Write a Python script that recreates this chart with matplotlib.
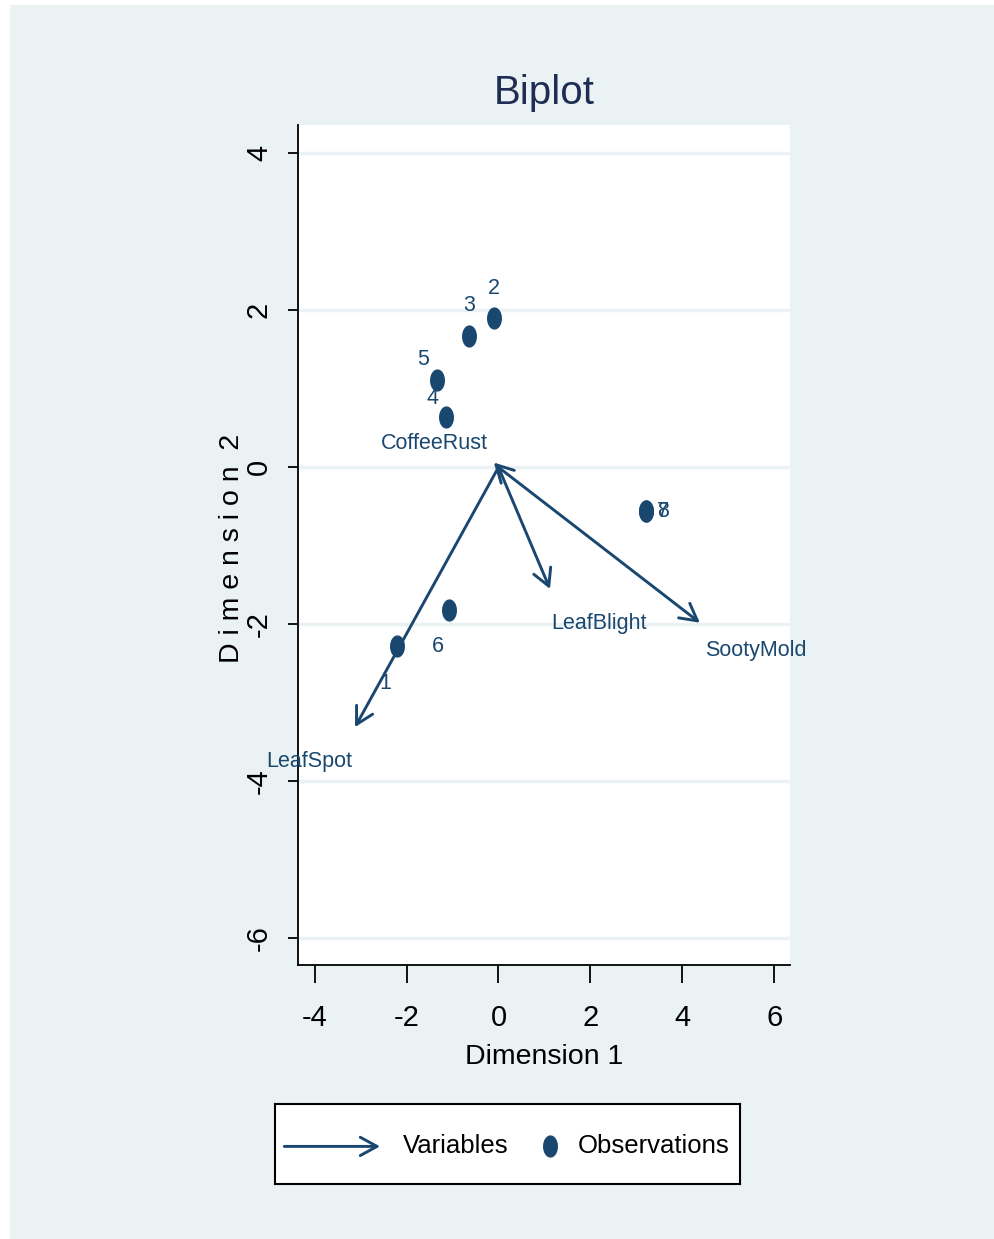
import numpy as np
import matplotlib
matplotlib.use("Agg")
import matplotlib.pyplot as plt
from matplotlib.path import Path
from matplotlib.patches import Rectangle

plt.rcParams['font.family'] = ['Liberation Sans Narrow', 'Liberation Sans', 'DejaVu Sans']
plt.rcParams['axes.unicode_minus'] = False

# -------------------------------
# data
# -------------------------------
obs_labels = ['1', '2', '3', '4', '5', '6', '7', '8']
obs_dim1 = [-2.21, -0.10, -0.64, -1.14, -1.34, -1.08, 3.21, 3.21]
obs_dim2 = [-2.28, 1.90, 1.67, 0.64, 1.11, -1.82, -0.56, -0.56]

var_names = ['LeafSpot', 'LeafBlight', 'SootyMold', 'CoffeeRust']
var_dim1 = [-3.12, 1.12, 4.38, -0.10]
var_dim2 = [-3.31, -1.55, -1.98, 0.06]

xticks = [-4, -2, 0, 2, 4, 6]
yticks = [-6, -4, -2, 0, 2, 4]

# label offsets in points (stata clock positions, roughly)
obs_off = {'1': (-8, -27), '2': (0, 21), '3': (0, 22), '4': (-10, 13),
           '5': (-10, 15), '6': (-8, -26), '7': (12, 0), '8': (12, 0)}
var_off = {'LeafSpot': (-33, -25), 'LeafBlight': (35, -25),
           'SootyMold': (40, -20), 'CoffeeRust': (-43, 14)}

navy = '#1a476f'
bg = '#eaf2f3'

fig = plt.figure(figsize=(9.95, 12.39), dpi=100)
fig.patch.set_facecolor('white')
fig.patches.append(Rectangle((10 / 995, 0), 1, 1 - 5 / 1239, transform=fig.transFigure,
                             facecolor=bg, edgecolor='none', zorder=-10))

ax = fig.add_axes([298 / 995, 1 - 965 / 1239, 492 / 995, 840 / 1239])
ax.set_facecolor('white')
ax.set_xlim(-4.36, 6.34)
ax.set_ylim(-6.34, 4.36)

for s in ['top', 'right']:
    ax.spines[s].set_visible(False)
for s in ['left', 'bottom']:
    ax.spines[s].set_linewidth(1.3)

ax.set_yticks(yticks)
ax.set_xticks(xticks)
ax.set_yticklabels([str(t) for t in yticks], rotation=90, va='center')
ax.tick_params(axis='y', length=7, width=1.3, pad=11, labelsize=21)
ax.tick_params(axis='x', length=13, width=1.3, pad=15, labelsize=21)
ax.grid(axis='y', color=bg, linewidth=2.5)
ax.set_axisbelow(True)

# elongated dot like the stata marker
t = np.linspace(0, 2 * np.pi, 40)
ell = Path(np.column_stack([0.65 * np.cos(t), np.sin(t)]))

for n, d1, d2 in zip(var_names, var_dim1, var_dim2):
    ax.annotate('', xy=(d1, d2), xytext=(0, 0),
                arrowprops=dict(arrowstyle='->,head_length=0.55,head_width=0.3',
                                color=navy, lw=2.1, shrinkA=0, shrinkB=0,
                                mutation_scale=22))
    ax.annotate(n, xy=(d1, d2), xytext=var_off[n], textcoords='offset points',
                ha='center', va='center', fontsize=15.5, color=navy,
                annotation_clip=False)

ax.plot(obs_dim1, obs_dim2, linestyle='none', marker=ell, markersize=15,
        color=navy, zorder=5)
for lab, d1, d2 in zip(obs_labels, obs_dim1, obs_dim2):
    ax.annotate(lab, xy=(d1, d2), xytext=obs_off[lab], textcoords='offset points',
                ha='center', va='center', fontsize=15.5, color=navy)

ax.set_title('Biplot', fontsize=29, color='#1e2d53', pad=15)
ax.set_xlabel('Dimension 1', fontsize=20.5, labelpad=9)
ax.set_ylabel('D i m e n s i o n  2', fontsize=20.5, ha='center', va='center')
ax.yaxis.set_label_coords(-0.134, 0.496)

# legend box drawn by hand so the arrow key looks like stata
lg = fig.add_axes([275 / 995, 1 - 1184 / 1239, 465 / 995, 80 / 1239])
lg.set_xlim(0, 1)
lg.set_ylim(0, 1)
lg.set_xticks([])
lg.set_yticks([])
for s in lg.spines.values():
    s.set_linewidth(1.5)
    s.set_color('black')
lg.annotate('', xy=(0.226, 0.47), xytext=(0.02, 0.47),
            arrowprops=dict(arrowstyle='->,head_length=0.55,head_width=0.3',
                            color=navy, lw=2.1, shrinkA=0, shrinkB=0,
                            mutation_scale=22))
lg.text(0.275, 0.47, 'Variables', fontsize=18.5, va='center', ha='left')
lg.plot([0.591], [0.47], linestyle='none', marker=ell, markersize=15, color=navy)
lg.text(0.652, 0.47, 'Observations', fontsize=18.5, va='center', ha='left')

fig.savefig('out.png', dpi=100, facecolor=fig.get_facecolor())
